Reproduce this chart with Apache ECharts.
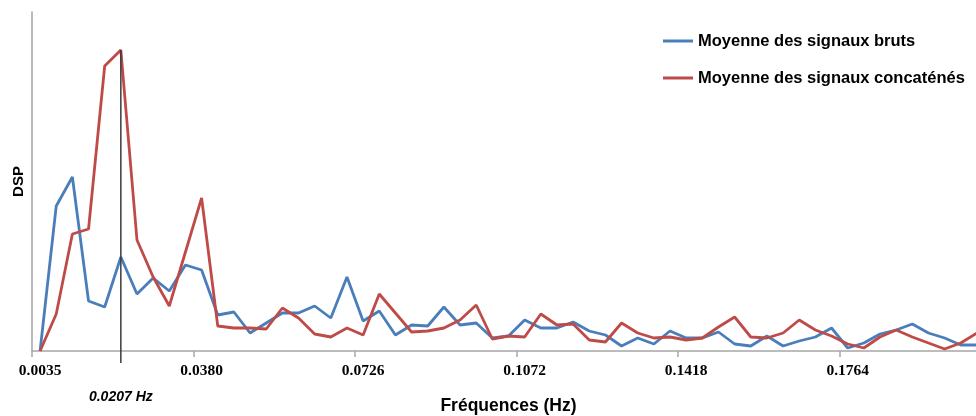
<!DOCTYPE html>
<html>
<head>
<meta charset="utf-8">
<script src="https://cdn.jsdelivr.net/npm/echarts@6/dist/echarts.min.js"></script>
<style>
  html, body { margin: 0; padding: 0; background: #fff; }
  #chart { width: 976px; height: 416px; }
</style>
</head>
<body>
<div id="chart"></div>
<script>
// Frequency bins (Hz)
const frequencies = [
  '0.0035','0.0069','0.0104','0.0138','0.0173','0.0207','0.0242','0.0277','0.0311','0.0346',
  '0.0380','0.0415','0.0450','0.0484','0.0519','0.0553','0.0588','0.0622','0.0657','0.0692',
  '0.0726','0.0761','0.0795','0.0830','0.0865','0.0899','0.0934','0.0968','0.1003','0.1037',
  '0.1072','0.1107','0.1141','0.1176','0.1210','0.1245','0.1279','0.1314','0.1349','0.1383',
  '0.1418','0.1452','0.1487','0.1522','0.1556','0.1591','0.1625','0.1660','0.1694','0.1729',
  '0.1764','0.1798','0.1833','0.1867','0.1902','0.1936','0.1971','0.2006','0.2040'
];

// Mean power spectral density of the raw signals
const brutsDSP = [
  0,145,174,50,44,94,57,73,60,86,
  81,36,39,18,28,38,38,45,33,74,
  30,40,16,26,25,44,26,28,13,15,
  31,23,23,29,20,16,5,13,7,20,
  13,13,19,7,5,15,5,10,14,23,
  3,8,17,21,27,18,13,6,6
];

// Mean power spectral density of the concatenated signals
const concatenesDSP = [
  0,37,117,122,285,301,111,74,45,99,
  153,25,23,23,22,43,33,17,14,23,
  16,57,38,19,20,23,31,46,12,15,
  14,37,26,27,11,9,28,18,13,14,
  11,13,24,34,14,13,18,31,21,15,
  7,3,14,21,14,8,2,8,18
];

const seriesNames = ['Moyenne des signaux bruts', 'Moyenne des signaux concaténés'];
const peakIndex = 5;            // bin of the dominant peak
const peakLabel = '0.0207 Hz';

const chart = echarts.init(document.getElementById('chart'), null, { renderer: 'canvas' });

const axisGray = '#a6a6a6';
const labelFont = '"Liberation Serif", serif';
const textFont = '"Liberation Sans", Arial, sans-serif';

chart.setOption({
  animation: false,
  backgroundColor: '#ffffff',
  // the plot area runs slightly past the right edge of the canvas
  grid: { left: 32, top: 12, right: -9, bottom: 65, containLabel: false, outerBoundsMode: 'none' },
  legend: {
    data: seriesNames,
    orient: 'vertical',
    left: 663,
    top: 32,
    padding: 0,
    itemWidth: 30,
    itemHeight: 3,
    itemGap: 19,
    icon: 'rect',
    itemStyle: { borderWidth: 0 },
    textStyle: { fontFamily: textFont, fontWeight: 'bold', fontSize: 16.5, color: '#000', lineHeight: 18 }
  },
  xAxis: {
    type: 'category',
    data: frequencies,
    boundaryGap: true,
    name: 'Fréquences (Hz)',
    nameLocation: 'middle',
    nameGap: 46,
    nameTextStyle: { fontFamily: textFont, fontWeight: 'bold', fontSize: 17.5, color: '#000' },
    axisLine: { lineStyle: { color: axisGray, width: 1.5 } },
    axisTick: { show: true, interval: 9, length: 6, lineStyle: { color: axisGray, width: 1.5 } },
    axisLabel: {
      interval: 9,
      margin: 12,
      fontFamily: labelFont,
      fontWeight: 'bold',
      fontSize: 15.5,
      color: '#000'
    },
    splitLine: { show: false }
  },
  yAxis: {
    type: 'value',
    min: 0,
    max: 339,
    name: 'DSP',
    nameLocation: 'middle',
    nameGap: 6,
    nameTextStyle: { fontFamily: textFont, fontWeight: 'bold', fontSize: 15, color: '#000' },
    axisLine: { show: true, lineStyle: { color: axisGray, width: 1.5 } },
    axisTick: { show: false },
    axisLabel: { show: false },
    splitLine: { show: false }
  },
  series: [
    {
      name: seriesNames[0],
      type: 'line',
      data: brutsDSP,
      symbol: 'none',
      lineStyle: { color: '#4a7ebb', width: 2.8 },
      itemStyle: { color: '#4a7ebb' },
      z: 2
    },
    {
      name: seriesNames[1],
      type: 'line',
      data: concatenesDSP,
      symbol: 'none',
      lineStyle: { color: '#be4b48', width: 2.8 },
      itemStyle: { color: '#be4b48' },
      z: 3
    },
    {
      // Vertical marker through the dominant peak, with its frequency underneath
      type: 'custom',
      data: [[peakIndex, concatenesDSP[peakIndex]]],
      clip: false,
      silent: true,
      z: 4,
      renderItem: function (params, api) {
        const top = api.coord([api.value(0), api.value(1)]);
        const base = api.coord([api.value(0), 0]);
        return {
          type: 'group',
          children: [
            {
              type: 'line',
              shape: { x1: top[0], y1: top[1], x2: top[0], y2: base[1] + 12 },
              style: { stroke: '#3a3a3a', lineWidth: 1.5 }
            },
            {
              type: 'text',
              style: {
                x: top[0],
                y: base[1] + 46,
                text: peakLabel,
                fill: '#000',
                font: 'italic bold 14px ' + textFont,
                textAlign: 'center',
                textVerticalAlign: 'middle'
              }
            }
          ]
        };
      }
    }
  ]
});
</script>
</body>
</html>
